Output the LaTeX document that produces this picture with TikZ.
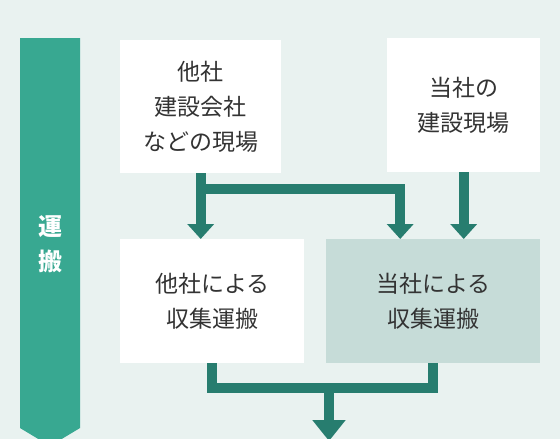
\documentclass[tikz,border=0pt]{standalone}
\usepackage{fontspec}
\setmainfont{Noto Sans CJK JP}
\usepackage{xcolor}
\usetikzlibrary{arrows.meta,positioning,calc}
\definecolor{bgcol}{HTML}{E9F2F0}
\definecolor{barcol}{HTML}{38A891}
\definecolor{flowcol}{HTML}{277D6F}
\definecolor{ownbox}{HTML}{C6DCD8}
\definecolor{txtcol}{HTML}{333333}

\begin{document}
\begin{tikzpicture}[
  x=1pt, y=-1pt,
  font=\fontsize{23}{35}\selectfont,
  site/.style={fill=white, text=txtcol, align=center, inner sep=0pt,
               anchor=north west},
  link/.style={draw=flowcol, line width=10pt},
  flow/.style={link, -{Triangle[width=26pt,length=15pt]}},
]
\useasboundingbox (0,0) rectangle (560,439);
\fill[bgcol] (0,0) rectangle (560,439);
% stage bar
\fill[barcol] (20,38) -- (80,38) -- (80,428) -- (50,446) -- (20,428) -- cycle;
\node[text=white, align=center, font=\fontsize{24}{35}\selectfont\bfseries] (stage) at (50,244) {運\\搬};
% sites
\node[site, minimum width=161pt, minimum height=133pt] (other) at (120,40) {他社\\建設会社\\などの現場};
\node[site, minimum width=153pt, minimum height=134pt] (own) at (387,38) {当社の\\建設現場};
% carriers
\node[site, minimum width=184pt, minimum height=124pt] (othercar) at (120,239) {他社による\\収集運搬};
\node[site, fill=ownbox, minimum width=214pt, minimum height=124pt] (owncar) at (326,239) {当社による\\収集運搬};
\coordinate (split) at ($(other.south)+(0,16)$);
\coordinate (merge) at (329,388);
\coordinate (out) at (329,441);
\draw[flow] (other.south) -- (other.south |- othercar.north);
\draw[flow] (split) -| ([xshift=-33pt]owncar.north);
\draw[flow] (own.south) -- (own.south |- owncar.north);
\draw[link] (othercar.south) |- (merge) -| (owncar.south);
\draw[flow, -{Triangle[width=32pt,length=21pt]}] (merge) -- (out);
\end{tikzpicture}
\end{document}
